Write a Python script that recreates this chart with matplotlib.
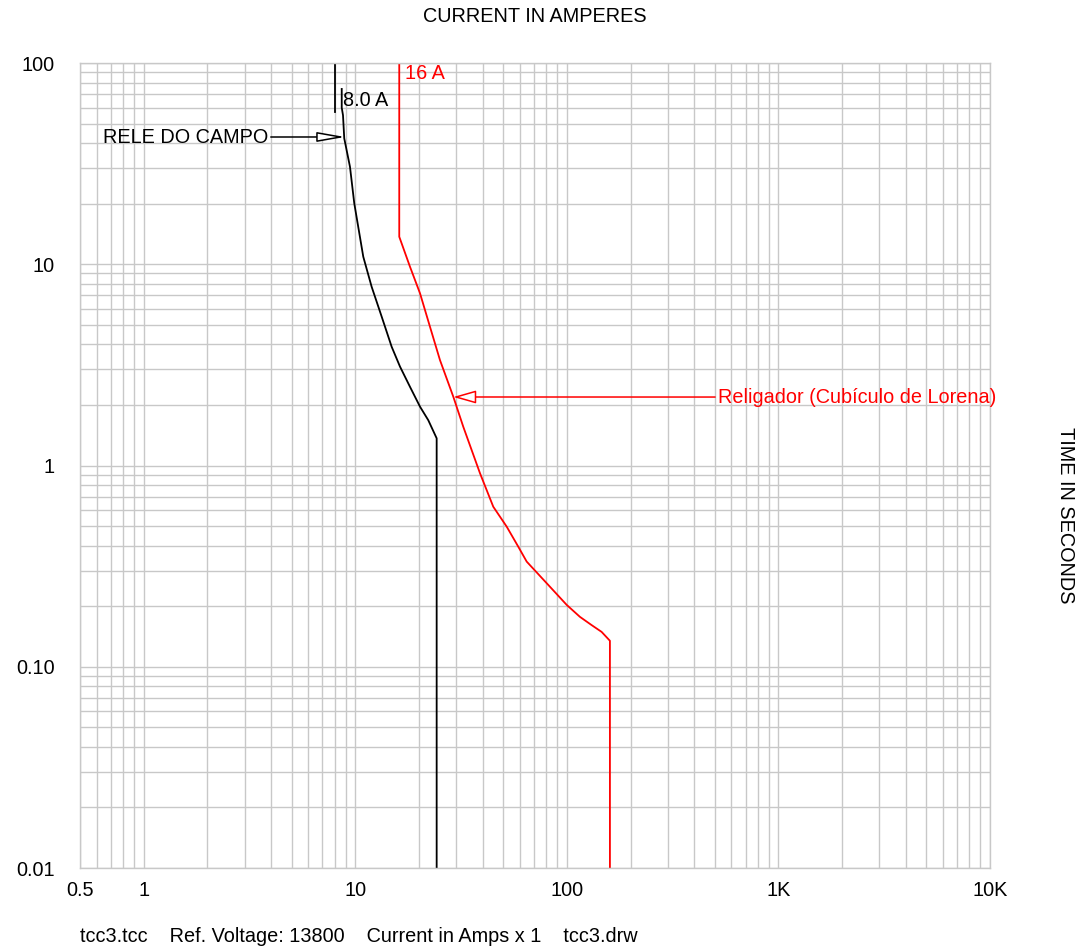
import numpy as np
import matplotlib
matplotlib.use("Agg")
import matplotlib.pyplot as plt
from matplotlib.ticker import FixedLocator, NullFormatter, FixedFormatter

plt.rcParams['font.family'] = ['Liberation Sans', 'DejaVu Sans']

# ---- data ----
rele_top_I = [8.0, 8.0]
rele_top_t = [100, 57.0]
rele_I = [8.63, 8.63, 8.75, 8.87, 9.44, 9.89, 10.91, 11.95, 13.33, 14.86, 16.27,
          18.14, 20.23, 22.13, 24.25, 24.25]
rele_t = [74.3, 60.0, 55.0, 42.2, 30.5, 20.1, 10.9, 7.73, 5.49, 3.89, 3.10,
          2.46, 1.96, 1.68, 1.365, 0.01]
relig_I = [16.14, 16.14, 18.14, 20.23, 22.55, 25.14, 29.05, 32.38, 38.86, 44.9,
           51.95, 58.94, 64.6, 81.7, 99.8, 115.3, 131.0, 146.0, 159.8, 159.8]
relig_t = [100, 13.7, 9.72, 7.17, 4.89, 3.34, 2.20, 1.56, 0.915, 0.624,
           0.497, 0.395, 0.333, 0.255, 0.203, 0.177, 0.161, 0.149, 0.1346, 0.01]

x_major = [0.5, 1, 10, 100, 1000, 10000]
x_labels = ['0.5', '1', '10', '100', '1K', '10K']
y_major = [0.01, 0.1, 1, 10, 100]
y_labels = ['0.01', '0.10', '1', '10', '100']

rele_label = 'RELE DO CAMPO'
relig_label = 'Religador (Cubículo de Lorena)'
rele_pickup = '8.0 A'
relig_pickup = '16 A'

FS = 14.3

# ---- figure ----
fig = plt.figure(figsize=(10.8, 9.49), dpi=100)
ax = fig.add_axes([80/1080, 81/949, 910/1080, 805/949])
ax.set_xscale('log')
ax.set_yscale('log')
ax.set_xlim(0.5, 10000)
ax.set_ylim(0.01, 100)

grid_c = '#c8c8c8'
xg = [m * 10.0**e for e in range(-1, 4) for m in range(1, 10)]
xg = [v for v in xg if 0.5 <= v <= 10000] + [10000]
yg = [m * 10.0**e for e in range(-2, 2) for m in range(1, 10)] + [100]
ax.xaxis.set_major_locator(FixedLocator(x_major))
ax.xaxis.set_major_formatter(FixedFormatter(x_labels))
ax.xaxis.set_minor_locator(FixedLocator(xg))
ax.xaxis.set_minor_formatter(NullFormatter())
ax.yaxis.set_major_locator(FixedLocator(y_major))
ax.yaxis.set_major_formatter(FixedFormatter(y_labels))
ax.yaxis.set_minor_locator(FixedLocator(yg))
ax.yaxis.set_minor_formatter(NullFormatter())
ax.grid(True, which='both', color=grid_c, linewidth=1.0)
ax.set_axisbelow(True)
for s in ax.spines.values():
    s.set_color(grid_c)
    s.set_linewidth(1.0)
ax.tick_params(which='both', length=0, labelsize=FS, colors='black')
ax.tick_params(axis='x', pad=9)
ax.tick_params(axis='y', pad=18)

ax.plot(rele_top_I, rele_top_t, color='black', lw=1.3)
ax.plot(rele_I, rele_t, color='black', lw=1.3)
ax.plot(relig_I, relig_t, color='#ff0000', lw=1.3)

ax.text(0.2885, 0.953, rele_pickup, transform=ax.transAxes, fontsize=FS,
        color='black', ha='left', va='center')
ax.text(0.357, 0.987, relig_pickup, transform=ax.transAxes, fontsize=FS,
        color='#ff0000', ha='left', va='center')

ax.annotate(rele_label, xy=(8.94, 42.9), xycoords='data',
            xytext=(0.2066, 0.908), textcoords='axes fraction',
            ha='right', va='center', fontsize=FS, color='black',
            arrowprops=dict(arrowstyle='-|>,head_length=17,head_width=3',
                            mutation_scale=1, shrinkA=0, shrinkB=0,
                            fc='white', ec='black', lw=1.1))
ax.annotate(relig_label, xy=(29.05, 2.19), xycoords='data',
            xytext=(0.701, 0.585), textcoords='axes fraction',
            ha='left', va='center', fontsize=FS, color='#ff0000',
            arrowprops=dict(arrowstyle='-|>,head_length=14,head_width=4',
                            mutation_scale=1, shrinkA=0, shrinkB=0,
                            fc='white', ec='#ff0000', lw=1.1))

fig.text(535/1080, 1 - 17/949, 'CURRENT IN AMPERES', ha='center', va='center', fontsize=FS)
fig.text(1066/1080, 1 - 515/949, 'TIME IN SECONDS', ha='center', va='center',
         rotation=-90, fontsize=FS)
fig.text(80/1080, 1 - 937/949,
         'tcc3.tcc    Ref. Voltage: 13800    Current in Amps x 1    tcc3.drw',
         ha='left', va='center', fontsize=FS)

fig.savefig('out.png', dpi=100)
